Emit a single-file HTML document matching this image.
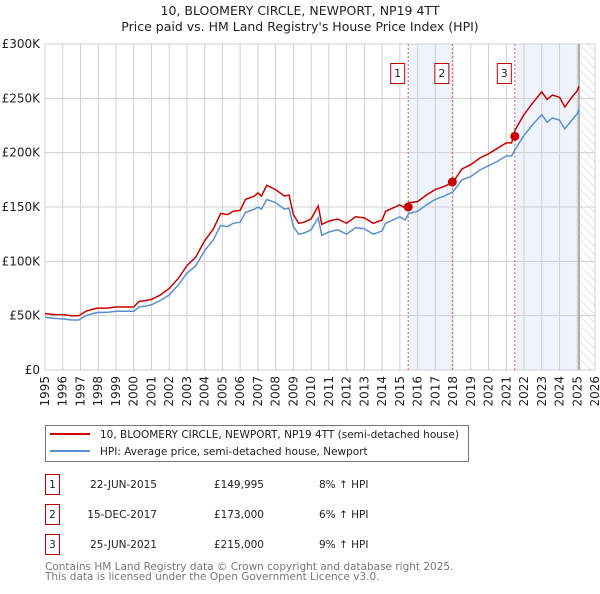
<!DOCTYPE html>
<html><head><meta charset="utf-8"><style>
body{margin:0;background:#fff;font-family:"DejaVu Sans","Liberation Sans",sans-serif;}
svg text{font-family:"DejaVu Sans","Liberation Sans",sans-serif;}
</style></head><body>
<svg id="chart" width="600" height="590" viewBox="0 0 600 590" xmlns="http://www.w3.org/2000/svg">
<defs><pattern id="hatch" width="6" height="6" patternUnits="userSpaceOnUse" patternTransform="rotate(-45)"><line x1="0" y1="0" x2="0" y2="6" stroke="#ccc" stroke-width="1"/></pattern></defs>
<text x="300" y="15" text-anchor="middle" font-size="12.5" fill="#222">10, BLOOMERY CIRCLE, NEWPORT, NP19 4TT</text>
<text x="300" y="31" text-anchor="middle" font-size="12.5" fill="#222">Price paid vs. HM Land Registry's House Price Index (HPI)</text>
<g id="grid"></g><g id="marks"></g><g id="axes"></g>
<g>
<rect x="45.5" y="425.5" width="423" height="36" fill="#fff" stroke="#777"/>
<line x1="50" y1="434" x2="90" y2="434" stroke="#cc0000" stroke-width="2"/>
<text x="100" y="438" font-size="10.5" fill="#222">10, BLOOMERY CIRCLE, NEWPORT, NP19 4TT (semi-detached house)</text>
<line x1="50" y1="451" x2="90" y2="451" stroke="#5b8fd0" stroke-width="2"/>
<text x="100" y="455" font-size="10.5" fill="#222">HPI: Average price, semi-detached house, Newport</text>
</g>
<g id="table" font-size="10.5" fill="#222"></g>
<text x="45" y="570" font-size="10.5" fill="#777">Contains HM Land Registry data © Crown copyright and database right 2025.</text>
<text x="45" y="580" font-size="10.5" fill="#777">This data is licensed under the Open Government Licence v3.0.</text>
</svg>
<script>
const years=[1995.0,1995.5,1996.0,1996.5,1996.9,1997.3,1997.7,1998.0,1998.5,1999.0,1999.5,2000.0,2000.3,2000.7,2001.0,2001.5,2002.0,2002.5,2003.0,2003.5,2004.0,2004.5,2004.9,2005.3,2005.6,2006.0,2006.3,2006.8,2007.0,2007.2,2007.5,2008.0,2008.5,2008.75,2009.0,2009.3,2009.6,2010.0,2010.4,2010.6,2011.0,2011.5,2012.0,2012.5,2013.0,2013.5,2014.0,2014.2,2015.0,2015.3,2015.5,2016.0,2016.5,2017.0,2017.5,2018.0,2018.5,2019.0,2019.5,2020.0,2020.5,2021.0,2021.3,2021.5,2022.0,2022.5,2023.0,2023.3,2023.6,2024.0,2024.3,2024.7,2025.0,2025.1];
const hpiValues=[48.5,47.5,47,46,46,50,52,53,53,54,54,54,58,59,60,64,69,78,89,96,110,120,133,132,135,136,145,148,150,148,157,154,148,149,132,125,126,129,140,124,127,129,125,131,130,125,128,135,141,138,144,146,152,157,160,164,175,178,184,188,192,197,197,203,216,226,235,228,232,230,222,230,236,240];
const paidValues=[52,51,51,50,50,54,56,57,57,58,58,58,63,64,65,69,75,84,96,104,119,130,144,143,146,147,157,160,163,160,170,166,160,161,143,135,136,139,151,134,137,139,135,141,140,135,138,146,152,149,154,155,161,166,169,173,185,189,195,199,204,209,209,221,235,246,256,249,253,251,242,251,257,261];
const yTicks=[0,50,100,150,200,250,300];
const yTickLabels=["£0","£50K","£100K","£150K","£200K","£250K","£300K"];
const xTicks=[1995,1996,1997,1998,1999,2000,2001,2002,2003,2004,2005,2006,2007,2008,2009,2010,2011,2012,2013,2014,2015,2016,2017,2018,2019,2020,2021,2022,2023,2024,2025,2026];
const saleYears=[2015.47,2017.96,2021.48];
const saleValues=[149.995,173,215];
const saleLabels=["1","2","3"];
const saleDates=["22-JUN-2015","15-DEC-2017","25-JUN-2021"];
const salePrices=["£149,995","£173,000","£215,000"];
const saleDiffs=["8% ↑ HPI","6% ↑ HPI","9% ↑ HPI"];
const dataEnd=2025.1;
const NS="http://www.w3.org/2000/svg";
const X0=45,X1=595,Y0=370,Y1=44;
const xs=y=>X0+(y-1995)/(2026-1995)*(X1-X0);
const ys=v=>Y0-v/300*(Y0-Y1);
function mk(tag,attrs,parent){const e=document.createElementNS(NS,tag);for(const k in attrs)e.setAttribute(k,attrs[k]);parent.appendChild(e);return e;}
const grid=document.getElementById('grid'),marks=document.getElementById('marks'),axes=document.getElementById('axes');
let r=mk('rect',{x:xs(saleYears[0]),y:Y1,width:xs(saleYears[1])-xs(saleYears[0]),height:Y0-Y1,fill:'#eef3fc'},grid);


r=mk('rect',{x:xs(saleYears[2]),y:Y1,width:xs(dataEnd)-xs(saleYears[2]),height:Y0-Y1,fill:'#eef3fc'},grid);


r=mk('rect',{x:xs(dataEnd),y:Y1,width:X1-xs(dataEnd),height:Y0-Y1,fill:'url(#hatch)'},grid);


xTicks.forEach(t=>{const l=mk('line',{x1:xs(t),x2:xs(t),y1:Y1,y2:Y0,stroke:'#d0d0d0','stroke-width':1},grid);


const tx=mk('text',{x:0,y:0,'font-size':12,fill:'#222','text-anchor':'end',transform:`translate(${xs(t)+4},${Y0+6}) rotate(-90)`},axes);tx.textContent=t;

});
yTicks.forEach((t,i)=>{const l=mk('line',{x1:X0,x2:X1,y1:ys(t),y2:ys(t),stroke:'#d0d0d0','stroke-width':1},grid);


const tx=mk('text',{x:X0-5,y:ys(t)+4,'font-size':12,fill:'#222','text-anchor':'end'},axes);tx.textContent=yTickLabels[i];

});
let b=mk('line',{x1:xs(dataEnd),x2:xs(dataEnd),y1:Y1,y2:Y0,stroke:'#999','stroke-width':1.5},grid);


saleYears.forEach((s,i)=>{const l=mk('line',{x1:xs(s),x2:xs(s),y1:Y1,y2:Y0,stroke:'#e06060','stroke-width':1,'stroke-dasharray':'2,2'},grid);

});
const pts=v=>years.map((y,i)=>xs(y).toFixed(1)+','+ys(v[i]).toFixed(1)).join(' ');
let p=mk('polyline',{points:pts(hpiValues),fill:'none',stroke:'#5b8fd0','stroke-width':1.5},marks);


p=mk('polyline',{points:pts(paidValues),fill:'none',stroke:'#cc0000','stroke-width':1.5},marks);


const tbl=document.getElementById('table');
saleYears.forEach((s,i)=>{
const c=mk('circle',{cx:xs(s),cy:ys(saleValues[i]),r:4.5,fill:'#cc0000'},marks);


const g=mk('g',{},marks);


mk('rect',{x:xs(s)-17.5,y:63.5,width:14,height:20,fill:'#fff',stroke:'#b00'},g);
const t=mk('text',{x:xs(s)-10.5,y:77,'font-size':11,'text-anchor':'middle',fill:'#222'},g);t.textContent=saleLabels[i];
const yy=483+i*30;
const rg=mk('g',{},tbl);


mk('rect',{x:45.5,y:yy-8.5,width:14,height:20,fill:'#fff',stroke:'#b00'},rg);
let tt=mk('text',{x:52.5,y:yy+5,'text-anchor':'middle'},rg);tt.textContent=saleLabels[i];
tt=mk('text',{x:157,y:yy+5,'text-anchor':'end'},rg);tt.textContent=saleDates[i];
tt=mk('text',{x:264,y:yy+5,'text-anchor':'end'},rg);tt.textContent=salePrices[i];
tt=mk('text',{x:319,y:yy+5},rg);tt.textContent=saleDiffs[i];
});
</script>
</body></html>
